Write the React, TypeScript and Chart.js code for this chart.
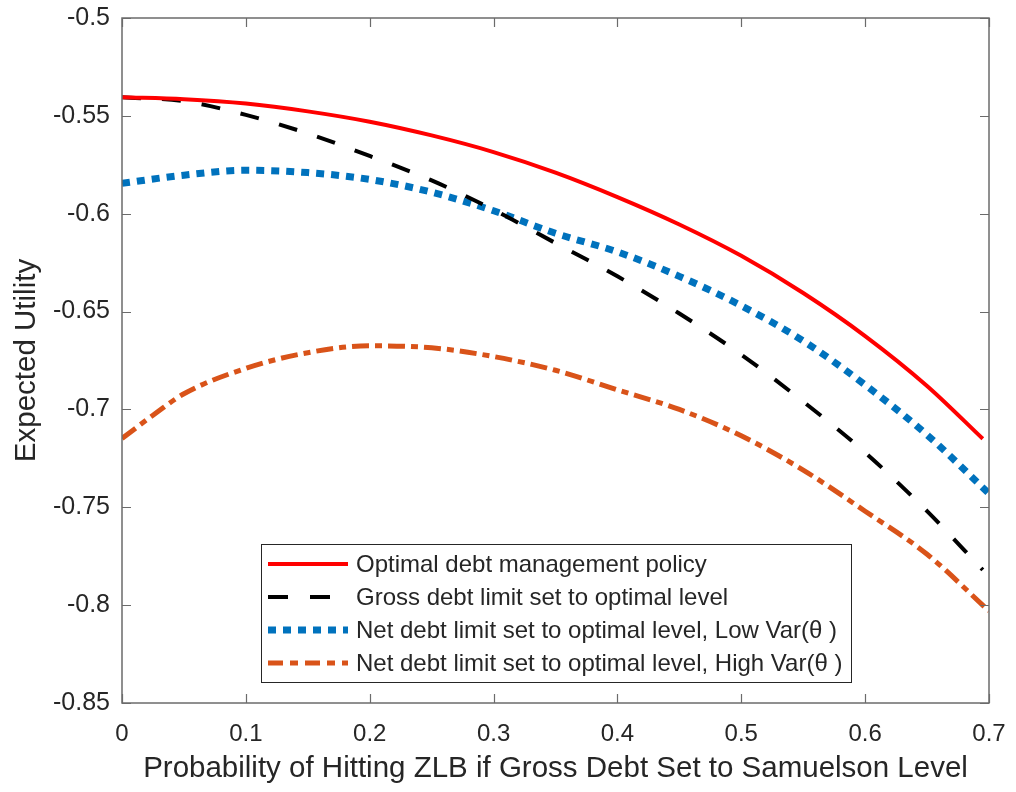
import React, { useEffect, useRef } from 'react';
import { Chart, registerables } from 'chart.js';

Chart.register(...registerables);

// ---- Data ----
const xRed = [0, 0.05, 0.1, 0.15, 0.2, 0.25, 0.3, 0.35, 0.4, 0.45, 0.5, 0.55, 0.6, 0.65, 0.695];
const optimalPolicy = [-0.5405, -0.5415, -0.5437, -0.5477, -0.553, -0.56, -0.5685, -0.579, -0.5915, -0.6055, -0.6215, -0.6405, -0.6625, -0.688, -0.715];

const xBlack = [0, 0.05, 0.1, 0.15, 0.2, 0.25, 0.3, 0.35, 0.4, 0.45, 0.5, 0.55, 0.6, 0.65, 0.695];
const grossDebtLimit = [-0.5405, -0.5425, -0.5495, -0.559, -0.5705, -0.583, -0.598, -0.615, -0.632, -0.651, -0.672, -0.696, -0.722, -0.752, -0.782];

const xBlue = [0, 0.05, 0.1, 0.15, 0.2, 0.25, 0.3, 0.35, 0.4, 0.45, 0.5, 0.55, 0.6, 0.65, 0.7];
const netDebtLowVar = [-0.5845, -0.5803, -0.5778, -0.579, -0.5825, -0.589, -0.5985, -0.61, -0.6195, -0.632, -0.647, -0.665, -0.6875, -0.713, -0.743];

const xOrange = [0, 0.025, 0.05, 0.1, 0.15, 0.2, 0.25, 0.3, 0.35, 0.4, 0.45, 0.5, 0.55, 0.6, 0.65, 0.7];
const netDebtHighVar = [-0.7148, -0.703, -0.692, -0.679, -0.671, -0.6675, -0.6685, -0.673, -0.68, -0.69, -0.7, -0.7135, -0.731, -0.752, -0.774, -0.803];

const seriesLabels = [
  'Optimal debt management policy',
  'Gross debt limit set to optimal level',
  'Net debt limit set to optimal level, Low Var(\u03B8 )',
  'Net debt limit set to optimal level, High Var(\u03B8 )',
];

const xTitle = 'Probability of Hitting ZLB if Gross Debt Set to Samuelson Level';
const yTitle = 'Expected Utility';

const FONT = '"Liberation Sans", Arial, Helvetica, sans-serif';
const TEXT = '#262626';
const AXIS = '#6b6b6b';

const pts = (xs: number[], ys: number[]) => xs.map((x, i) => ({ x, y: ys[i] }));

const fmt = (v: number | string) => String(Number(Number(v).toFixed(3)));

const matlabPlugin = {
  id: 'matlabBoxLegend',
  afterDraw(chart: any) {
    const { ctx, chartArea: a, scales } = chart;
    ctx.save();
    // box
    ctx.strokeStyle = AXIS;
    ctx.lineWidth = 1.5;
    ctx.setLineDash([]);
    ctx.strokeRect(a.left, a.top, a.right - a.left, a.bottom - a.top);
    // inward ticks on all four sides
    const L = 9;
    ctx.beginPath();
    scales.x.ticks.forEach((t: any) => {
      const p = Math.round(scales.x.getPixelForValue(t.value)) + 0.5;
      ctx.moveTo(p, a.bottom); ctx.lineTo(p, a.bottom - L);
      ctx.moveTo(p, a.top); ctx.lineTo(p, a.top + L);
    });
    scales.y.ticks.forEach((t: any) => {
      const p = Math.round(scales.y.getPixelForValue(t.value)) + 0.5;
      ctx.moveTo(a.left, p); ctx.lineTo(a.left + L, p);
      ctx.moveTo(a.right, p); ctx.lineTo(a.right - L, p);
    });
    ctx.lineWidth = 1.2;
    ctx.stroke();

    // legend
    const lx = a.left + 139;
    const ly = a.top + 526;
    const lw = 590;
    const lh = 138;
    ctx.fillStyle = '#ffffff';
    ctx.fillRect(lx, ly, lw, lh);
    ctx.strokeStyle = '#262626';
    ctx.lineWidth = 1;
    ctx.strokeRect(lx + 0.5, ly + 0.5, lw, lh);
    const rowH = 33;
    chart.data.datasets.forEach((ds: any, i: number) => {
      const cy = ly + 20 + i * rowH;
      ctx.save();
      ctx.strokeStyle = ds.borderColor;
      ctx.lineWidth = ds.borderWidth;
      ctx.setLineDash(ds.legendDash || ds.borderDash || []);
      ctx.lineCap = 'butt';
      ctx.beginPath();
      ctx.moveTo(lx + 7, cy);
      ctx.lineTo(lx + 87, cy);
      ctx.stroke();
      ctx.restore();
      ctx.fillStyle = TEXT;
      ctx.font = `24px ${FONT}`;
      ctx.textBaseline = 'middle';
      ctx.textAlign = 'left';
      ctx.fillText(ds.label, lx + 95, cy + 1);
    });
    ctx.restore();
  },
};

export default function App() {
  const ref = useRef<HTMLCanvasElement | null>(null);

  useEffect(() => {
    if (!ref.current) return;
    const chart = new Chart(ref.current, {
      type: 'line',
      data: {
        datasets: [
          {
            label: seriesLabels[0],
            data: pts(xRed, optimalPolicy),
            borderColor: '#ff0000',
            borderWidth: 4,
            pointRadius: 0,
            cubicInterpolationMode: 'monotone',
          },
          {
            label: seriesLabels[1],
            data: pts(xBlack, grossDebtLimit),
            borderColor: '#000000',
            borderWidth: 4,
            borderDash: [19, 21],
            legendDash: [20, 22],
            pointRadius: 0,
            cubicInterpolationMode: 'monotone',
          },
          {
            label: seriesLabels[2],
            data: pts(xBlue, netDebtLowVar),
            borderColor: '#0072BD',
            borderWidth: 7,
            borderDash: [8, 7],
            pointRadius: 0,
            cubicInterpolationMode: 'monotone',
          },
          {
            label: seriesLabels[3],
            data: pts(xOrange, netDebtHighVar),
            borderColor: '#D95319',
            borderWidth: 5,
            borderDash: [17, 6, 7, 6],
            legendDash: [15, 7, 8, 7],
            pointRadius: 0,
            cubicInterpolationMode: 'monotone',
          },
        ],
      },
      options: {
        animation: false,
        responsive: false,
        maintainAspectRatio: false,
        layout: { padding: { left: 0, top: 18, right: 27, bottom: 0 } },
        plugins: {
          legend: { display: false },
          tooltip: { enabled: false },
        },
        scales: {
          x: {
            type: 'linear',
            min: 0,
            max: 0.7,
            grid: { display: false },
            border: { display: false },
            ticks: {
              stepSize: 0.1,
              padding: 9,
              color: TEXT,
              font: { family: FONT, size: 24 },
              callback: (v: any) => fmt(v),
            },
            title: {
              display: true,
              text: xTitle,
              color: TEXT,
              font: { family: FONT, size: 29.5 },
              padding: { top: 2, bottom: 5 },
            },
            afterFit: (s: any) => { s.height = 89; s.paddingLeft = 0; s.paddingRight = 0; },
          },
          y: {
            type: 'linear',
            min: -0.85,
            max: -0.5,
            grid: { display: false },
            border: { display: false },
            ticks: {
              stepSize: 0.05,
              padding: 4,
              color: TEXT,
              font: { family: FONT, size: 25 },
              callback: (v: any) => fmt(v),
            },
            title: {
              display: true,
              text: yTitle,
              color: TEXT,
              font: { family: FONT, size: 29.5 },
              padding: { top: 9, bottom: 4 },
            },
            afterFit: (s: any) => { s.width = 122; s.paddingTop = 0; s.paddingBottom = 0; },
          },
        },
      },
      plugins: [matlabPlugin],
    } as any);
    return () => chart.destroy();
  }, []);

  return (
    <div style={{ position: 'fixed', left: 0, top: 0, width: 1016, height: 792, background: '#fff' }}>
      <canvas ref={ref} width={1016} height={792} style={{ display: 'block' }} />
    </div>
  );
}
